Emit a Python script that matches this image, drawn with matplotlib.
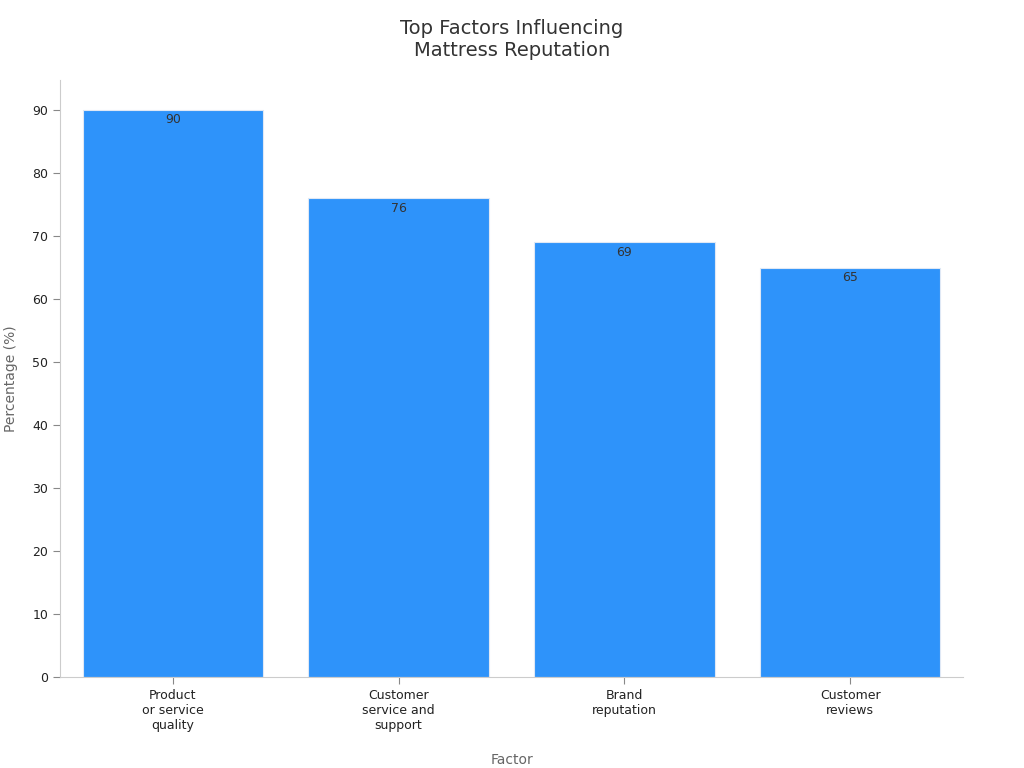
import matplotlib.pyplot as plt

categories = ["Product\nor service\nquality", "Customer\nservice and\nsupport", "Brand\nreputation", "Customer\nreviews"]
values = [90, 76, 69, 65]

fig = plt.figure(figsize=(10.24, 7.68), dpi=100)
ax = fig.add_axes([60/1024, 1-677/768, 903/1024, 597/768])

bars = ax.bar(range(len(values)), values, width=0.8, color="#2E93FA", edgecolor="#dfe8f5", linewidth=0.8)
for i, v in enumerate(values):
    ax.text(i, v - 0.5, str(v), ha="center", va="top", fontsize=9, color="#333333")

ax.set_xlim(-0.5, 3.5)
ax.set_ylim(0, 94.8)
ax.set_yticks(range(0, 91, 10))
ax.set_xticks(range(len(values)))
ax.set_xticklabels(categories, fontsize=9, color="#222222")
ax.tick_params(axis="y", labelsize=9, colors="#222222", length=5, color="#888888")
ax.tick_params(axis="x", length=5, color="#888888")
for s in ["top", "right"]:
    ax.spines[s].set_visible(False)
for s in ["left", "bottom"]:
    ax.spines[s].set_color("#cccccc")

ax.set_xlabel("Factor", fontsize=10, color="#666666", labelpad=15)
ax.set_ylabel("Percentage (%)", fontsize=10, color="#666666", labelpad=10)
fig.suptitle("Top Factors Influencing\nMattress Reputation", fontsize=14, color="#333333", y=0.975)

plt.savefig("out.png")
